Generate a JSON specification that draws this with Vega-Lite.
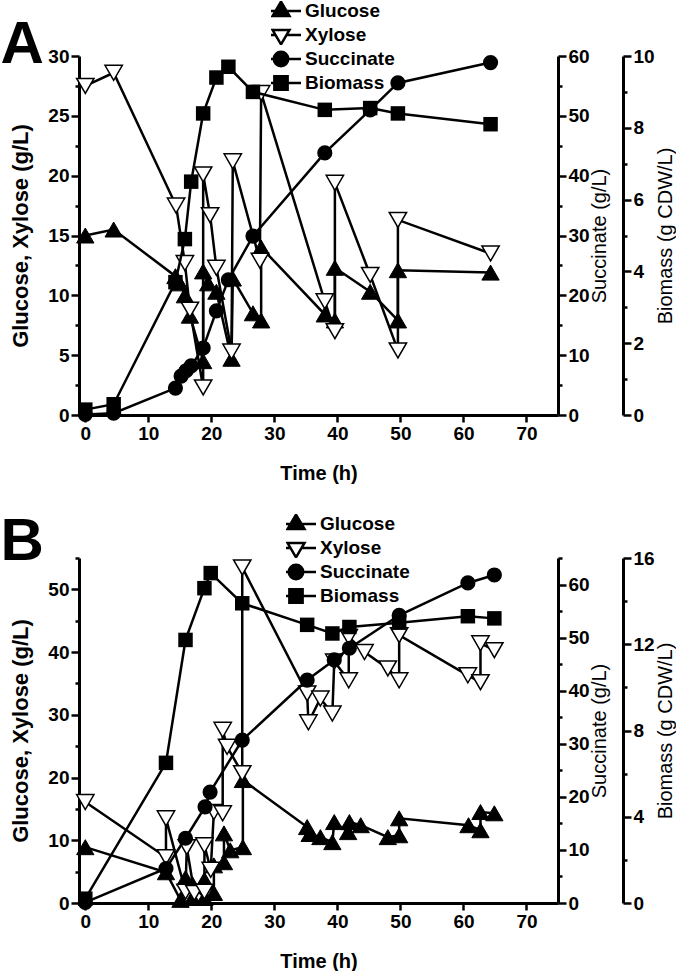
{
  "$schema": "https://vega.github.io/schema/vega-lite/v6.json",
  "padding": {"left": 0, "top": 1, "right": 0, "bottom": 0},
  "spacing": 29,
  "resolve": {"scale": {"shape": "independent", "fill": "independent", "stroke": "independent"}, "legend": {"shape": "independent", "fill": "independent", "stroke": "independent"}},
  "datasets": {
    "A": [
      {"s":"Glucose","t":0,"v":15.0,"i":1},{"s":"Glucose","t":4.5,"v":15.5,"i":2},{"s":"Glucose","t":14.3,"v":11.6,"i":3},{"s":"Glucose","t":15.0,"v":11.0,"i":4},{"s":"Glucose","t":15.8,"v":10.0,"i":5},{"s":"Glucose","t":16.6,"v":8.3,"i":6},{"s":"Glucose","t":18.7,"v":4.5,"i":7},{"s":"Glucose","t":18.7,"v":12.0,"i":8},{"s":"Glucose","t":19.5,"v":11.0,"i":9},{"s":"Glucose","t":20.8,"v":10.3,"i":10},{"s":"Glucose","t":23.2,"v":4.7,"i":11},{"s":"Glucose","t":23.4,"v":11.4,"i":12},{"s":"Glucose","t":26.6,"v":8.5,"i":13},{"s":"Glucose","t":27.9,"v":7.9,"i":14},{"s":"Glucose","t":27.9,"v":14.0,"i":15},{"s":"Glucose","t":38.0,"v":8.4,"i":16},{"s":"Glucose","t":39.6,"v":7.9,"i":17},{"s":"Glucose","t":39.6,"v":12.3,"i":18},{"s":"Glucose","t":45.2,"v":10.3,"i":19},{"s":"Glucose","t":49.6,"v":7.9,"i":20},{"s":"Glucose","t":49.6,"v":12.1,"i":21},{"s":"Glucose","t":64.3,"v":11.9,"i":22},
      {"s":"Xylose","t":0,"v":27.5,"i":1},{"s":"Xylose","t":4.5,"v":28.6,"i":2},{"s":"Xylose","t":14.4,"v":17.5,"i":3},{"s":"Xylose","t":15.8,"v":12.7,"i":4},{"s":"Xylose","t":16.6,"v":8.8,"i":5},{"s":"Xylose","t":18.7,"v":2.3,"i":6},{"s":"Xylose","t":18.7,"v":20.1,"i":7},{"s":"Xylose","t":19.8,"v":16.7,"i":8},{"s":"Xylose","t":20.8,"v":12.3,"i":9},{"s":"Xylose","t":23.2,"v":5.3,"i":10},{"s":"Xylose","t":23.4,"v":21.2,"i":11},{"s":"Xylose","t":27.7,"v":12.9,"i":12},{"s":"Xylose","t":27.9,"v":26.9,"i":13},{"s":"Xylose","t":38.0,"v":9.5,"i":14},{"s":"Xylose","t":39.6,"v":7.0,"i":15},{"s":"Xylose","t":39.6,"v":19.4,"i":16},{"s":"Xylose","t":45.2,"v":11.7,"i":17},{"s":"Xylose","t":49.6,"v":5.4,"i":18},{"s":"Xylose","t":49.6,"v":16.3,"i":19},{"s":"Xylose","t":64.3,"v":13.5,"i":20},
      {"s":"Succinate","t":0,"v":0.1,"i":1},{"s":"Succinate","t":4.5,"v":0.3,"i":2},{"s":"Succinate","t":14.3,"v":4.5,"i":3},{"s":"Succinate","t":15.2,"v":6.5,"i":4},{"s":"Succinate","t":16.0,"v":7.4,"i":5},{"s":"Succinate","t":16.8,"v":8.2,"i":6},{"s":"Succinate","t":18.7,"v":11.2,"i":7},{"s":"Succinate","t":20.8,"v":17.4,"i":8},{"s":"Succinate","t":22.7,"v":22.6,"i":9},{"s":"Succinate","t":26.6,"v":29.9,"i":10},{"s":"Succinate","t":38.0,"v":43.8,"i":11},{"s":"Succinate","t":45.2,"v":51.0,"i":12},{"s":"Succinate","t":49.6,"v":55.5,"i":13},{"s":"Succinate","t":64.3,"v":58.9,"i":14},
      {"s":"Biomass","t":0,"v":0.15,"i":1},{"s":"Biomass","t":4.5,"v":0.3,"i":2},{"s":"Biomass","t":14.3,"v":3.7,"i":3},{"s":"Biomass","t":15.8,"v":4.9,"i":4},{"s":"Biomass","t":16.8,"v":6.5,"i":5},{"s":"Biomass","t":18.7,"v":8.4,"i":6},{"s":"Biomass","t":20.8,"v":9.4,"i":7},{"s":"Biomass","t":22.7,"v":9.7,"i":8},{"s":"Biomass","t":26.6,"v":9.0,"i":9},{"s":"Biomass","t":38.0,"v":8.5,"i":10},{"s":"Biomass","t":45.2,"v":8.55,"i":11},{"s":"Biomass","t":49.6,"v":8.4,"i":12},{"s":"Biomass","t":64.3,"v":8.1,"i":13}
    ],
    "B": [
      {"s":"Glucose","t":0,"v":8.9,"i":1},{"s":"Glucose","t":12.8,"v":4.9,"i":2},{"s":"Glucose","t":15.1,"v":0.5,"i":3},{"s":"Glucose","t":15.9,"v":4.0,"i":4},{"s":"Glucose","t":17.0,"v":0.8,"i":5},{"s":"Glucose","t":17.0,"v":3.0,"i":6},{"s":"Glucose","t":18.9,"v":0.8,"i":7},{"s":"Glucose","t":18.9,"v":3.7,"i":8},{"s":"Glucose","t":20.4,"v":1.6,"i":9},{"s":"Glucose","t":20.4,"v":6.0,"i":10},{"s":"Glucose","t":22.0,"v":6.5,"i":11},{"s":"Glucose","t":22.0,"v":11.1,"i":12},{"s":"Glucose","t":23.0,"v":8.4,"i":13},{"s":"Glucose","t":25.0,"v":8.9,"i":14},{"s":"Glucose","t":25.0,"v":19.6,"i":15},{"s":"Glucose","t":35.2,"v":12.1,"i":16},{"s":"Glucose","t":35.6,"v":11.0,"i":17},{"s":"Glucose","t":37.3,"v":10.5,"i":18},{"s":"Glucose","t":39.2,"v":9.7,"i":19},{"s":"Glucose","t":39.5,"v":12.9,"i":20},{"s":"Glucose","t":41.7,"v":11.3,"i":21},{"s":"Glucose","t":41.9,"v":12.9,"i":22},{"s":"Glucose","t":43.7,"v":12.4,"i":23},{"s":"Glucose","t":48.0,"v":10.5,"i":24},{"s":"Glucose","t":49.8,"v":10.8,"i":25},{"s":"Glucose","t":49.8,"v":13.5,"i":26},{"s":"Glucose","t":60.8,"v":12.4,"i":27},{"s":"Glucose","t":62.7,"v":11.6,"i":28},{"s":"Glucose","t":62.7,"v":14.5,"i":29},{"s":"Glucose","t":64.9,"v":14.3,"i":30},
      {"s":"Xylose","t":0,"v":16.1,"i":1},{"s":"Xylose","t":12.8,"v":7.3,"i":2},{"s":"Xylose","t":12.8,"v":13.5,"i":3},{"s":"Xylose","t":15.9,"v":1.8,"i":4},{"s":"Xylose","t":16.1,"v":8.9,"i":5},{"s":"Xylose","t":17.3,"v":1.6,"i":6},{"s":"Xylose","t":18.9,"v":1.8,"i":7},{"s":"Xylose","t":18.9,"v":9.2,"i":8},{"s":"Xylose","t":19.9,"v":5.3,"i":9},{"s":"Xylose","t":20.4,"v":14.5,"i":10},{"s":"Xylose","t":21.8,"v":14.3,"i":11},{"s":"Xylose","t":21.8,"v":27.6,"i":12},{"s":"Xylose","t":22.5,"v":24.9,"i":13},{"s":"Xylose","t":24.9,"v":20.7,"i":14},{"s":"Xylose","t":24.9,"v":53.5,"i":15},{"s":"Xylose","t":35.2,"v":33.4,"i":16},{"s":"Xylose","t":35.4,"v":28.8,"i":17},{"s":"Xylose","t":37.3,"v":32.6,"i":18},{"s":"Xylose","t":39.2,"v":30.2,"i":19},{"s":"Xylose","t":39.5,"v":38.5,"i":20},{"s":"Xylose","t":41.8,"v":35.5,"i":21},{"s":"Xylose","t":41.8,"v":42.4,"i":22},{"s":"Xylose","t":44.3,"v":40.0,"i":23},{"s":"Xylose","t":48.0,"v":37.4,"i":24},{"s":"Xylose","t":49.8,"v":35.5,"i":25},{"s":"Xylose","t":49.8,"v":42.7,"i":26},{"s":"Xylose","t":60.7,"v":36.3,"i":27},{"s":"Xylose","t":62.7,"v":35.2,"i":28},{"s":"Xylose","t":62.7,"v":41.4,"i":29},{"s":"Xylose","t":64.9,"v":40.3,"i":30},
      {"s":"Succinate","t":0,"v":0.1,"i":1},{"s":"Succinate","t":12.8,"v":6.5,"i":2},{"s":"Succinate","t":15.9,"v":12.2,"i":3},{"s":"Succinate","t":19.0,"v":18.1,"i":4},{"s":"Succinate","t":19.8,"v":20.9,"i":5},{"s":"Succinate","t":24.9,"v":30.7,"i":6},{"s":"Succinate","t":35.2,"v":42.0,"i":7},{"s":"Succinate","t":39.5,"v":45.8,"i":8},{"s":"Succinate","t":41.9,"v":48.0,"i":9},{"s":"Succinate","t":49.8,"v":54.2,"i":10},{"s":"Succinate","t":60.7,"v":60.3,"i":11},{"s":"Succinate","t":64.9,"v":61.8,"i":12},
      {"s":"Biomass","t":0,"v":0.2,"i":1},{"s":"Biomass","t":12.8,"v":6.5,"i":2},{"s":"Biomass","t":15.9,"v":12.2,"i":3},{"s":"Biomass","t":18.9,"v":14.6,"i":4},{"s":"Biomass","t":19.9,"v":15.3,"i":5},{"s":"Biomass","t":24.9,"v":13.9,"i":6},{"s":"Biomass","t":35.2,"v":12.9,"i":7},{"s":"Biomass","t":39.2,"v":12.5,"i":8},{"s":"Biomass","t":41.9,"v":12.8,"i":9},{"s":"Biomass","t":49.8,"v":13.0,"i":10},{"s":"Biomass","t":60.7,"v":13.3,"i":11},{"s":"Biomass","t":64.9,"v":13.2,"i":12}
    ]
  },
  "vconcat": [
    {
      "width": 479, "height": 359,
      "data": {"name": "A"},
      "title": {"text": "A", "orient": "left", "anchor": "end", "frame": "group", "angle": 0, "align": "left", "baseline": "alphabetic", "font": "Liberation Sans", "fontSize": 60, "fontWeight": "bold", "color": "black", "offset": -34, "dy": 7},
      "layer": [
        {
          "transform": [{"filter": "datum.s === 'Glucose' || datum.s === 'Xylose'"}],
          "encoding": {
            "x": {"field": "t", "type": "quantitative", "scale": {"domain": [-1, 75], "nice": false, "zero": false},
                  "axis": {"title": "Time (h)", "values": [0,5,10,15,20,25,30,35,40,45,50,55,60,65,70,75], "labelExpr": "datum.value % 10 === 0 && datum.value <= 70 ? datum.label : ''", "tickSize": {"condition": {"test": "datum.value % 10 === 0", "value": 7}, "value": 5}, "titlePadding": 20}},
            "y": {"field": "v", "type": "quantitative", "scale": {"domain": [0, 30], "nice": false, "zero": false},
                  "axis": {"title": "Glucose, Xylose (g/L)", "titleFontSize": 22, "values": [0,2.5,5,7.5,10,12.5,15,17.5,20,22.5,25,27.5,30], "labelExpr": "datum.value % 5 === 0 ? datum.label : ''", "tickSize": {"condition": {"test": "datum.value % 5 === 0", "value": 8}, "value": 4}, "titlePadding": 15}}
          },
          "layer": [
            {"mark": {"type": "line", "color": "black", "strokeWidth": 2.5}, "encoding": {"detail": {"field": "s"}, "order": {"field": "i"}}},
            {"transform": [{"filter": "datum.s === 'Glucose'"}], "mark": {"type": "point", "shape": "triangle-up", "filled": true, "fill": "black", "stroke": "black", "strokeWidth": 1, "size": 300, "opacity": 1}},
            {"transform": [{"filter": "datum.s === 'Xylose'"}], "mark": {"type": "point", "shape": "triangle-down", "filled": true, "fill": "white", "stroke": "black", "strokeWidth": 1.5, "size": 300, "opacity": 1}},
            {"transform": [{"filter": "false"}], "mark": {"type": "point", "filled": true, "stroke": "black", "strokeWidth": 2.5, "opacity": 1},
             "encoding": {
               "shape": {"field": "s", "type": "nominal", "scale": {"domain": ["Glucose","Xylose","Succinate","Biomass"], "range": ["M-2.35,0L-0.65,0M0.65,0L2.35,0M0,-1.1L1,0.6L-1,0.6Z","M-2.35,0L-0.65,0M0.65,0L2.35,0M0,1.1L1,-0.6L-1,-0.6Z","M-2.35,0L-0.85,0M0.85,0L2.35,0M0.85,0A0.85,0.85,0,1,1,-0.85,0A0.85,0.85,0,1,1,0.85,0Z","M-2.35,0L-0.78,0M0.78,0L2.35,0M-0.78,-0.78L0.78,-0.78L0.78,0.78L-0.78,0.78Z"]},
                         "legend": {"title": null, "orient": "none", "legendX": 192, "legendY": -55, "symbolSize": 289, "symbolStrokeWidth": 2.5, "labelOffset": 14, "rowPadding": 4, "clipHeight": 20, "padding": 0}},
               "fill": {"field": "s", "type": "nominal", "scale": {"domain": ["Glucose","Xylose","Succinate","Biomass"], "range": ["black","white","black","black"]},
                         "legend": {"title": null, "orient": "none", "legendX": 192, "legendY": -55, "symbolSize": 289, "symbolStrokeWidth": 2.5, "labelOffset": 14, "rowPadding": 4, "clipHeight": 20, "padding": 0}},
               "stroke": {"field": "s", "type": "nominal", "scale": {"domain": ["Glucose","Xylose","Succinate","Biomass"], "range": ["black","black","black","black"]},
                         "legend": {"title": null, "orient": "none", "legendX": 192, "legendY": -55, "symbolSize": 289, "symbolStrokeWidth": 2.5, "labelOffset": 14, "rowPadding": 4, "clipHeight": 20, "padding": 0}}
             }}
          ]
        },
        {
          "transform": [{"filter": "datum.s === 'Succinate'"}],
          "encoding": {
            "x": {"field": "t", "type": "quantitative"},
            "y": {"field": "v", "type": "quantitative", "scale": {"domain": [0, 60], "nice": false, "zero": false},
                  "axis": {"orient": "right", "title": "Succinate (g/L)", "titleFontWeight": "normal", "titleAngle": 270, "titleBaseline": "top", "values": [0,5,10,15,20,25,30,35,40,45,50,55,60], "labelExpr": "datum.value % 10 === 0 ? datum.label : ''", "tickSize": {"condition": {"test": "datum.value % 10 === 0", "value": 8}, "value": 4}, "titlePadding": 0}}
          },
          "layer": [
            {"mark": {"type": "line", "color": "black", "strokeWidth": 2.5}, "encoding": {"order": {"field": "i"}}},
            {"mark": {"type": "point", "shape": "circle", "filled": true, "fill": "black", "size": 230, "opacity": 1}}
          ]
        },
        {
          "transform": [{"filter": "datum.s === 'Biomass'"}],
          "encoding": {
            "x": {"field": "t", "type": "quantitative"},
            "y": {"field": "v", "type": "quantitative", "scale": {"domain": [0, 10], "nice": false, "zero": false},
                  "axis": {"orient": "right", "offset": 65, "title": "Biomass (g CDW/L)", "titleFontWeight": "normal", "titleAngle": 270, "titleBaseline": "top", "values": [0,1,2,3,4,5,6,7,8,9,10], "labelExpr": "datum.value % 2 === 0 ? datum.label : ''", "tickSize": {"condition": {"test": "datum.value % 2 === 0", "value": 8}, "value": 4}, "titlePadding": 1}}
          },
          "layer": [
            {"mark": {"type": "line", "color": "black", "strokeWidth": 2.5}, "encoding": {"order": {"field": "i"}}},
            {"mark": {"type": "point", "shape": "square", "filled": true, "fill": "black", "size": 210, "opacity": 1}}
          ]
        }
      ],
      "resolve": {"scale": {"y": "independent"}}
    },
    {
      "width": 479, "height": 345,
      "data": {"name": "B"},
      "title": {"text": "B", "orient": "left", "anchor": "end", "frame": "group", "angle": 0, "align": "left", "baseline": "alphabetic", "font": "Liberation Sans", "fontSize": 60, "fontWeight": "bold", "color": "black", "offset": -34, "dy": 2},
      "layer": [
        {
          "transform": [{"filter": "datum.s === 'Glucose' || datum.s === 'Xylose'"}],
          "encoding": {
            "x": {"field": "t", "type": "quantitative", "scale": {"domain": [-1, 75], "nice": false, "zero": false},
                  "axis": {"title": "Time (h)", "values": [0,5,10,15,20,25,30,35,40,45,50,55,60,65,70,75], "labelExpr": "datum.value % 10 === 0 && datum.value <= 70 ? datum.label : ''", "tickSize": {"condition": {"test": "datum.value % 10 === 0", "value": 7}, "value": 5}, "titlePadding": 20}},
            "y": {"field": "v", "type": "quantitative", "scale": {"domain": [0, 55], "nice": false, "zero": false},
                  "axis": {"title": "Glucose, Xylose (g/L)", "titleFontSize": 22, "values": [0,5,10,15,20,25,30,35,40,45,50,55], "labelExpr": "datum.value % 10 === 0 ? datum.label : ''", "tickSize": {"condition": {"test": "datum.value % 10 === 0", "value": 8}, "value": 4}, "titlePadding": 15}}
          },
          "layer": [
            {"mark": {"type": "line", "color": "black", "strokeWidth": 2.5}, "encoding": {"detail": {"field": "s"}, "order": {"field": "i"}}},
            {"transform": [{"filter": "datum.s === 'Glucose'"}], "mark": {"type": "point", "shape": "triangle-up", "filled": true, "fill": "black", "stroke": "black", "strokeWidth": 1, "size": 300, "opacity": 1}},
            {"transform": [{"filter": "datum.s === 'Xylose'"}], "mark": {"type": "point", "shape": "triangle-down", "filled": true, "fill": "white", "stroke": "black", "strokeWidth": 1.5, "size": 300, "opacity": 1}},
            {"transform": [{"filter": "false"}], "mark": {"type": "point", "filled": true, "stroke": "black", "strokeWidth": 2.5, "opacity": 1},
             "encoding": {
               "shape": {"field": "s", "type": "nominal", "scale": {"domain": ["Glucose","Xylose","Succinate","Biomass"], "range": ["M-2.35,0L-0.65,0M0.65,0L2.35,0M0,-1.1L1,0.6L-1,0.6Z","M-2.35,0L-0.65,0M0.65,0L2.35,0M0,1.1L1,-0.6L-1,-0.6Z","M-2.35,0L-0.85,0M0.85,0L2.35,0M0.85,0A0.85,0.85,0,1,1,-0.85,0A0.85,0.85,0,1,1,0.85,0Z","M-2.35,0L-0.78,0M0.78,0L2.35,0M-0.78,-0.78L0.78,-0.78L0.78,0.78L-0.78,0.78Z"]},
                         "legend": {"title": null, "orient": "none", "legendX": 207, "legendY": -44, "symbolSize": 289, "symbolStrokeWidth": 2.5, "labelOffset": 14, "rowPadding": 4, "clipHeight": 20, "padding": 0}},
               "fill": {"field": "s", "type": "nominal", "scale": {"domain": ["Glucose","Xylose","Succinate","Biomass"], "range": ["black","white","black","black"]},
                         "legend": {"title": null, "orient": "none", "legendX": 207, "legendY": -44, "symbolSize": 289, "symbolStrokeWidth": 2.5, "labelOffset": 14, "rowPadding": 4, "clipHeight": 20, "padding": 0}},
               "stroke": {"field": "s", "type": "nominal", "scale": {"domain": ["Glucose","Xylose","Succinate","Biomass"], "range": ["black","black","black","black"]},
                         "legend": {"title": null, "orient": "none", "legendX": 207, "legendY": -44, "symbolSize": 289, "symbolStrokeWidth": 2.5, "labelOffset": 14, "rowPadding": 4, "clipHeight": 20, "padding": 0}}
             }}
          ]
        },
        {
          "transform": [{"filter": "datum.s === 'Succinate'"}],
          "encoding": {
            "x": {"field": "t", "type": "quantitative"},
            "y": {"field": "v", "type": "quantitative", "scale": {"domain": [0, 65], "nice": false, "zero": false},
                  "axis": {"orient": "right", "title": "Succinate (g/L)", "titleFontWeight": "normal", "titleAngle": 270, "titleBaseline": "top", "values": [0,5,10,15,20,25,30,35,40,45,50,55,60,65], "labelExpr": "datum.value % 10 === 0 ? datum.label : ''", "tickSize": {"condition": {"test": "datum.value % 10 === 0", "value": 8}, "value": 4}, "titlePadding": 0}}
          },
          "layer": [
            {"mark": {"type": "line", "color": "black", "strokeWidth": 2.5}, "encoding": {"order": {"field": "i"}}},
            {"mark": {"type": "point", "shape": "circle", "filled": true, "fill": "black", "size": 230, "opacity": 1}}
          ]
        },
        {
          "transform": [{"filter": "datum.s === 'Biomass'"}],
          "encoding": {
            "x": {"field": "t", "type": "quantitative"},
            "y": {"field": "v", "type": "quantitative", "scale": {"domain": [0, 16], "nice": false, "zero": false},
                  "axis": {"orient": "right", "offset": 65, "title": "Biomass (g CDW/L)", "titleFontWeight": "normal", "titleAngle": 270, "titleBaseline": "top", "values": [0,2,4,6,8,10,12,14,16], "labelExpr": "datum.value % 4 === 0 ? datum.label : ''", "tickSize": {"condition": {"test": "datum.value % 4 === 0", "value": 8}, "value": 4}, "titlePadding": 1}}
          },
          "layer": [
            {"mark": {"type": "line", "color": "black", "strokeWidth": 2.5}, "encoding": {"order": {"field": "i"}}},
            {"mark": {"type": "point", "shape": "square", "filled": true, "fill": "black", "size": 210, "opacity": 1}}
          ]
        }
      ],
      "resolve": {"scale": {"y": "independent"}}
    }
  ],
  "config": {
    "view": {"stroke": null},
    "axis": {"domainColor": "black", "domainWidth": 3, "tickColor": "black", "tickWidth": 2.5, "labelColor": "black", "labelFont": "Liberation Sans", "labelFontWeight": "bold", "labelFontSize": 19, "labelPadding": 2, "titleFont": "Liberation Sans", "titleFontWeight": "bold", "titleFontSize": 20, "titleColor": "black", "grid": false, "labelFlush": false, "labelOverlap": false, "labelBound": false},
    "legend": {"labelFont": "Liberation Sans", "labelFontSize": 19, "labelFontWeight": "bold", "labelColor": "black"}
  }
}
